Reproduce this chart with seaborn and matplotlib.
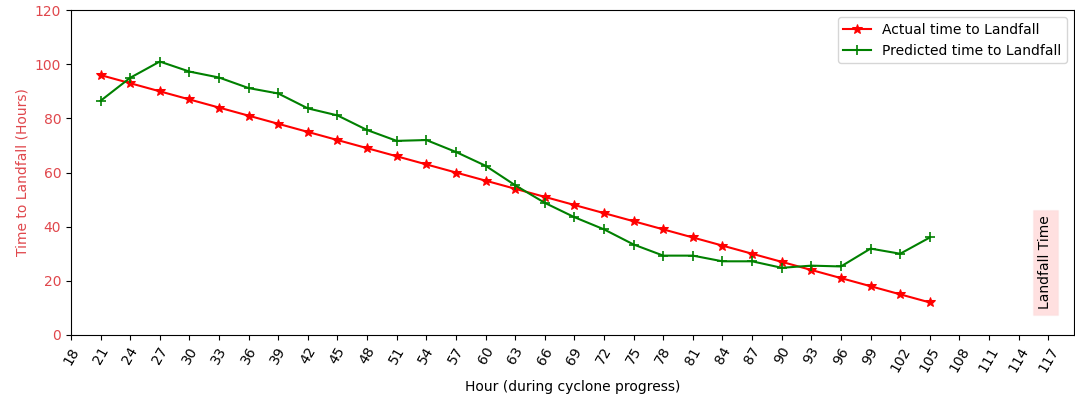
import matplotlib
matplotlib.use("Agg")
import matplotlib.pyplot as plt
import seaborn as sns
import pandas as pd

# Hours into the cyclone's progress
hours = [21, 24, 27, 30, 33, 36, 39, 42, 45, 48, 51, 54, 57, 60, 63,
         66, 69, 72, 75, 78, 81, 84, 87, 90, 93, 96, 99, 102, 105]

# Observed hours remaining until landfall
actual = [96, 93, 90, 87, 84, 81, 78, 75, 72, 69, 66, 63, 60, 57, 54,
          51, 48, 45, 42, 39, 36, 33, 30, 27, 24, 21, 18, 15, 12]

# Model estimate of hours remaining until landfall
predicted = [86.5, 95.0, 101.0, 97.3, 95.1, 91.2, 89.2, 83.7, 81.1, 75.7,
             71.7, 72.0, 67.6, 62.5, 55.3, 48.8, 43.5, 39.0, 33.4, 29.3,
             29.3, 27.2, 27.2, 24.8, 25.6, 25.3, 31.9, 30.0, 36.0]

x_ticks = list(range(18, 118, 3))

df = pd.DataFrame({"hour": hours, "actual": actual, "predicted": predicted})

fig, ax = plt.subplots(figsize=(10.75, 4.05), dpi=100)
fig.subplots_adjust(left=0.066, right=0.999, top=0.975, bottom=0.173)

sns.lineplot(data=df, x="hour", y="actual", ax=ax, color="red", marker="*",
             markersize=7, markeredgecolor="red", linewidth=1.5,
             label="Actual time to Landfall")
sns.lineplot(data=df, x="hour", y="predicted", ax=ax, color="green", marker="+",
             markersize=7, markeredgecolor="green", markeredgewidth=1.2,
             linewidth=1.5, label="Predicted time to Landfall")

ax.set_xlim(18, 119.6)
ax.set_ylim(0, 120)
ax.set_xticks(x_ticks)
ax.set_xticklabels([str(t) for t in x_ticks], rotation=60)
ax.set_yticks(range(0, 121, 20))

label_red = "#e0474c"
ax.set_xlabel("Hour (during cyclone progress)", fontsize=10)
ax.set_ylabel("Time to Landfall (Hours)", color=label_red, fontsize=10)
ax.tick_params(axis="y", labelcolor=label_red)

ax.text(116.7, 9.5, "Landfall Time", rotation=90, ha="center", va="bottom",
        fontsize=10, bbox=dict(facecolor="red", alpha=0.12, edgecolor="#f0c0c0"))

ax.legend(loc="upper right", fontsize=10)

fig.savefig("out.png", dpi=100)
